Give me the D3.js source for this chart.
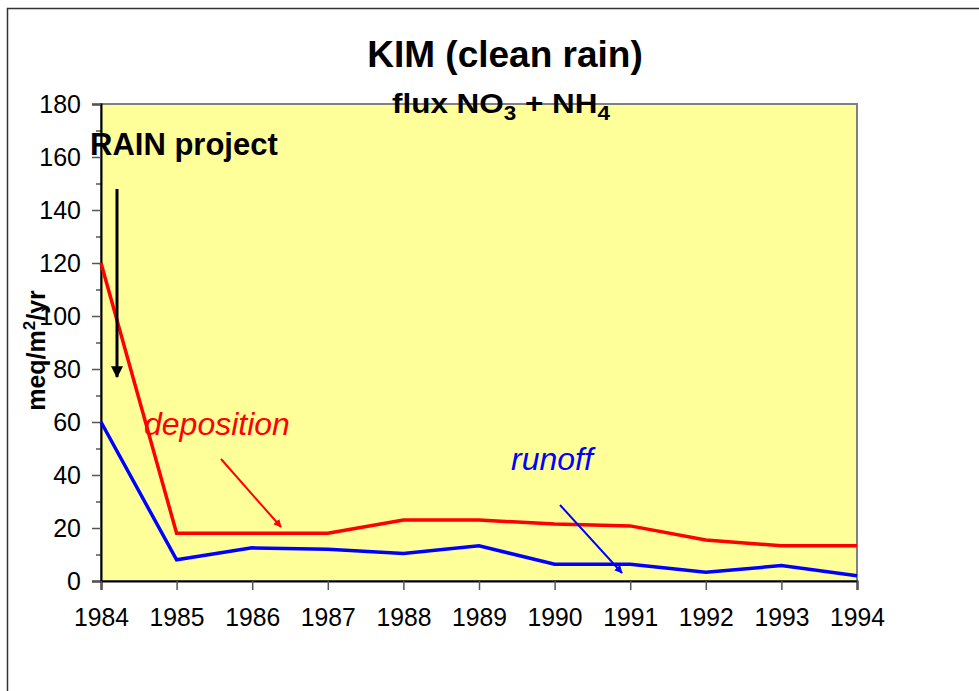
<!DOCTYPE html>
<html>
<head>
<meta charset="utf-8">
<script src="https://cdn.jsdelivr.net/npm/d3@7"></script>
<style>
  body { margin: 0; background: #fff; }
  svg { display: block; font-family: Arial, "Liberation Sans", sans-serif; }
</style>
</head>
<body>
<div id="chart"></div>
<script>
// data
var years = [1984, 1985, 1986, 1987, 1988, 1989, 1990, 1991, 1992, 1993, 1994];
var deposition = [120, 18, 18, 18, 23, 23, 21.5, 20.8, 15.5, 13.3, 13.3];
var runoff = [60, 8, 12.5, 12, 10.4, 13.3, 6.3, 6.3, 3.3, 5.8, 2];
var yTicks = [0, 20, 40, 60, 80, 100, 120, 140, 160, 180];

var W = 979, H = 691;
var margin = {left: 101, right: 122, top: 104, bottom: 110};

var svg = d3.select("#chart").append("svg")
    .attr("width", W)
    .attr("height", H);

// outer chart frame (right/bottom run off the page)
svg.append("rect")
    .attr("x", 7.5).attr("y", 8.5)
    .attr("width", 1000).attr("height", 1000)
    .attr("fill", "#fff")
    .attr("stroke", "#333")
    .attr("stroke-width", 1.5);

var x = d3.scaleLinear()
    .domain([1984, 1994])
    .range([margin.left, W - margin.right]);

var y = d3.scaleLinear()
    .domain([0, 180])
    .range([H - margin.bottom, margin.top]);

// plot area
svg.append("rect")
    .attr("x", x(1984)).attr("y", y(180))
    .attr("width", x(1994) - x(1984))
    .attr("height", y(0) - y(180))
    .attr("fill", "#ffff99")
    .attr("stroke", "#808080")
    .attr("stroke-width", 2);

// axes
var yAxis = svg.append("g")
    .attr("transform", "translate(" + x(1984) + ",0)")
    .call(d3.axisLeft(y).tickValues(yTicks).tickSize(9).tickPadding(11));
svg.append("g")
    .attr("transform", "translate(" + x(1984) + ",0)")
    .call(d3.axisLeft(y).tickValues(d3.range(10, 180, 20)).tickSize(5).tickFormat(""))
    .select(".domain").remove();

var xAxis = svg.append("g")
    .attr("transform", "translate(0," + y(0) + ")")
    .call(d3.axisBottom(x).tickValues(years).tickFormat(d3.format("d")).tickSize(9).tickPadding(18));

[yAxis, xAxis].forEach(function(g) {
  g.select(".domain").attr("stroke", "#000").attr("stroke-width", 2);
  g.selectAll(".tick line").attr("stroke", "#555").attr("stroke-width", 1.5);
  g.selectAll("text").attr("font-size", 25).attr("fill", "#000")
    .attr("font-family", "Arial, 'Liberation Sans', sans-serif");
});
// year labels are narrower in the original
xAxis.selectAll("text")
    .attr("textLength", 55)
    .attr("lengthAdjust", "spacingAndGlyphs");

// lines
var line = d3.line()
    .x(function(d, i) { return x(years[i]); })
    .y(function(d) { return y(d); });

svg.append("path")
    .datum(deposition)
    .attr("d", line)
    .attr("fill", "none")
    .attr("stroke", "#ff0000")
    .attr("stroke-width", 3.5);

svg.append("path")
    .datum(runoff)
    .attr("d", line)
    .attr("fill", "none")
    .attr("stroke", "#0000ff")
    .attr("stroke-width", 3.5);

// arrowheads
var defs = svg.append("defs");
[["black", "#000"], ["red", "#ff0000"], ["blue", "#0000ff"]].forEach(function(c) {
  defs.append("marker")
      .attr("id", "arr-" + c[0])
      .attr("viewBox", "0 0 10 10")
      .attr("refX", 9).attr("refY", 5)
      .attr("markerWidth", 4).attr("markerHeight", 4)
      .attr("markerUnits", "strokeWidth")
      .attr("orient", "auto")
    .append("path")
      .attr("d", "M0,0L10,5L0,10z")
      .attr("fill", c[1]);
});

// titles
svg.append("text")
    .attr("x", 505).attr("y", 67)
    .attr("text-anchor", "middle")
    .attr("font-size", 37).attr("font-weight", "bold")
    .text("KIM (clean rain)");

var sub = svg.append("text")
    .attr("x", 501).attr("y", 113)
    .attr("text-anchor", "middle")
    .attr("font-size", 28).attr("font-weight", "bold")
    .attr("textLength", 218)
    .attr("lengthAdjust", "spacingAndGlyphs");
sub.append("tspan").text("flux NO");
sub.append("tspan").attr("dy", 7).attr("font-size", 20).text("3");
sub.append("tspan").attr("dy", -7).text(" + NH");
sub.append("tspan").attr("dy", 7).attr("font-size", 20).text("4");

var yl = svg.append("text")
    .attr("transform", "translate(45," + ((y(0) + y(180)) / 2 + 8) + ") rotate(-90)")
    .attr("text-anchor", "middle")
    .attr("font-size", 25).attr("font-weight", "bold");
yl.append("tspan").text("meq/m");
yl.append("tspan").attr("dy", -10).attr("font-size", 17).text("2");
yl.append("tspan").attr("dy", 10).text("/yr");

// annotations
svg.append("text")
    .attr("x", 90).attr("y", 155)
    .attr("font-size", 31).attr("font-weight", "bold")
    .text("RAIN project");
svg.append("line")
    .attr("x1", 117).attr("y1", 189)
    .attr("x2", 117).attr("y2", y(77))
    .attr("stroke", "#000").attr("stroke-width", 3)
    .attr("marker-end", "url(#arr-black)");

svg.append("text")
    .attr("x", 144).attr("y", 435)
    .attr("font-size", 32).attr("font-style", "italic")
    .attr("fill", "#ff0000")
    .text("deposition");
svg.append("line")
    .attr("x1", 221).attr("y1", 459)
    .attr("x2", 281).attr("y2", 527)
    .attr("stroke", "#ff0000").attr("stroke-width", 2)
    .attr("marker-end", "url(#arr-red)");

svg.append("text")
    .attr("x", 511).attr("y", 470)
    .attr("font-size", 32).attr("font-style", "italic")
    .attr("fill", "#0000ff")
    .text("runoff");
svg.append("line")
    .attr("x1", 560).attr("y1", 505)
    .attr("x2", 622).attr("y2", 573)
    .attr("stroke", "#0000ff").attr("stroke-width", 2)
    .attr("marker-end", "url(#arr-blue)");
</script>
</body>
</html>
